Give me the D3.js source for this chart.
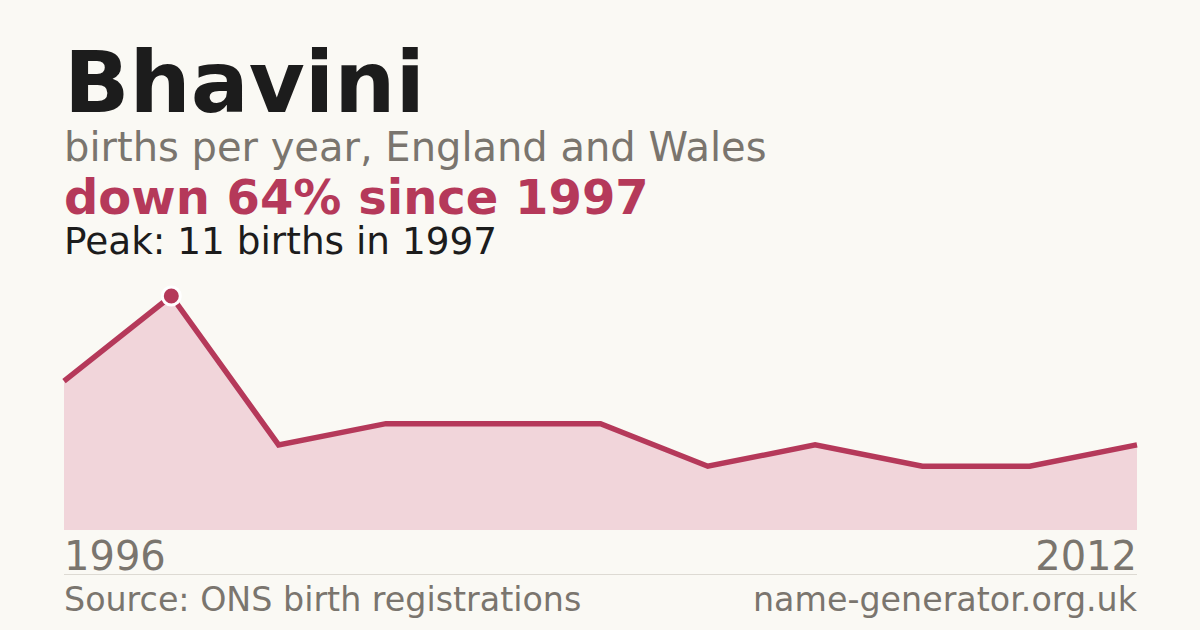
<!DOCTYPE html>
<html>
<head>
<meta charset="utf-8">
<script src="https://cdn.jsdelivr.net/npm/d3@7"></script>
<style>
  html, body { margin: 0; padding: 0; background: #faf9f4; }
  svg { display: block; font-family: "DejaVu Sans", sans-serif; }
</style>
</head>
<body>
<script>
// Births per year for the name, only the years that were reported
const years = [1996, 1997, 1998, 2000, 2001, 2003, 2005, 2006, 2008, 2010, 2012];
const births = [7, 11, 4, 5, 5, 5, 3, 4, 3, 3, 4];
const axisLabels = ["1996", "2012"];

const width = 1200;
const height = 630;
const plotLeft = 64;
const plotRight = 1137;
const plotTop = 296;
const plotBottom = 530;

const accent = "#b5395a";
const grey = "#7a756e";

const data = years.map((yr, i) => ({ year: yr, value: births[i] }));
const peak = data.reduce((a, b) => (b.value > a.value ? b : a));

const svg = d3
  .select("body")
  .append("svg")
  .attr("width", width)
  .attr("height", height);

svg.append("rect").attr("width", width).attr("height", height).attr("fill", "#faf9f4");

const x = d3.scalePoint().domain(years).range([plotLeft, plotRight]);
const y = d3.scaleLinear().domain([0, peak.value]).range([plotBottom, plotTop]);

// header
svg.append("text")
  .attr("x", plotLeft).attr("y", 112)
  .attr("font-size", 86).attr("font-weight", "bold").attr("fill", "#1c1c1c")
  .text("Bhavini");

svg.append("text")
  .attr("x", plotLeft).attr("y", 161)
  .attr("font-size", 40).attr("fill", grey)
  .text("births per year, England and Wales");

svg.append("text")
  .attr("x", plotLeft).attr("y", 214)
  .attr("font-size", 48).attr("font-weight", "bold").attr("fill", accent)
  .text("down 64% since 1997");

svg.append("text")
  .attr("x", plotLeft).attr("y", 254)
  .attr("font-size", 37.4).attr("fill", "#1c1c1c")
  .text("Peak: 11 births in 1997");

// area + line
const area = d3.area()
  .x((d) => x(d.year))
  .y0(y(0))
  .y1((d) => y(d.value));

const line = d3.line()
  .x((d) => x(d.year))
  .y((d) => y(d.value));

svg.append("path")
  .datum(data)
  .attr("d", area)
  .attr("fill", "#f1d5da");

svg.append("path")
  .datum(data)
  .attr("d", line)
  .attr("fill", "none")
  .attr("stroke", accent)
  .attr("stroke-width", 5.5)
  .attr("stroke-linejoin", "miter");

svg.append("circle")
  .attr("cx", x(peak.year))
  .attr("cy", y(peak.value))
  .attr("r", 9)
  .attr("fill", accent)
  .attr("stroke", "#ffffff")
  .attr("stroke-width", 3);

// first / last year
svg.append("text")
  .attr("x", plotLeft).attr("y", 570)
  .attr("font-size", 40).attr("fill", grey)
  .text(axisLabels[0]);

svg.append("text")
  .attr("x", plotRight).attr("y", 570)
  .attr("text-anchor", "end")
  .attr("font-size", 40).attr("fill", grey)
  .text(axisLabels[1]);

// footer
svg.append("line")
  .attr("x1", plotLeft).attr("x2", plotRight)
  .attr("y1", 574.5).attr("y2", 574.5)
  .attr("stroke", "#dddad3").attr("stroke-width", 1);

svg.append("text")
  .attr("x", plotLeft).attr("y", 611)
  .attr("font-size", 33.3).attr("fill", grey)
  .text("Source: ONS birth registrations");

svg.append("text")
  .attr("x", plotRight).attr("y", 611)
  .attr("text-anchor", "end")
  .attr("font-size", 33.3).attr("fill", grey)
  .text("name-generator.org.uk");
</script>
</body>
</html>
